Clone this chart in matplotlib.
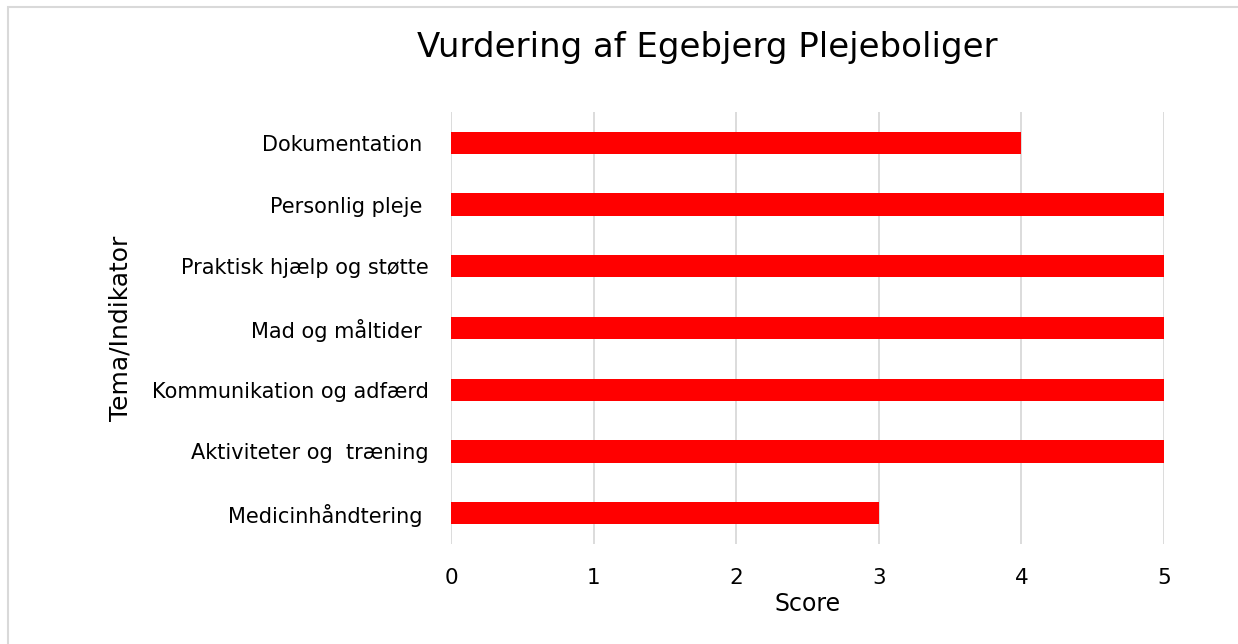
import matplotlib.pyplot as plt
from matplotlib.patches import Rectangle

# Werte aus dem Diagramm (von unten nach oben)
kategorien = [
    "Medicinhåndtering ",
    "Aktiviteter og  træning",
    "Kommunikation og adfærd",
    "Mad og måltider ",
    "Praktisk hjælp og støtte",
    "Personlig pleje ",
    "Dokumentation ",
]
score = [3, 5, 5, 5, 5, 5, 4]
x_ticks = [0, 1, 2, 3, 4, 5]

plt.rcParams['font.family'] = ['DejaVu Sans']

fig = plt.figure(figsize=(12.38, 6.44), dpi=100)
ax = fig.add_axes([451 / 1238, 1 - 544 / 644, 713 / 1238, 432 / 644])

# Rahmen um die Grafik (rechts/unten abgeschnitten)
fig.patches.append(Rectangle((8 / 1238, -0.05), 1.1, 1 - 7 / 644 + 0.05,
                             transform=fig.transFigure, fill=False,
                             edgecolor='#d9d9d9', linewidth=1.5))

pos = range(len(kategorien))
ax.barh(pos, score, height=0.36, color='#ff0000', zorder=3)

ax.set_xlim(0, 5)
ax.set_ylim(-0.5, len(kategorien) - 0.5)
ax.set_xticks(x_ticks)
ax.set_yticks(list(pos))
ax.set_yticklabels(kategorien, fontsize=15)
ax.tick_params(axis='x', labelsize=15.5, length=0, pad=17)
ax.tick_params(axis='y', length=0, pad=16)
ax.grid(axis='x', color='#d9d9d9', linewidth=1.3, zorder=0)
for s in ax.spines.values():
    s.set_visible(False)

ax.set_xlabel('Score', fontsize=17, labelpad=3)
ax.set_ylabel('Tema/Indikator', fontsize=18, labelpad=14)
fig.text(707 / 1238, 1 - 48 / 644, 'Vurdering af Egebjerg Plejeboliger',
         fontsize=24.5, ha='center', va='center')

fig.savefig('out.png', dpi=100)
